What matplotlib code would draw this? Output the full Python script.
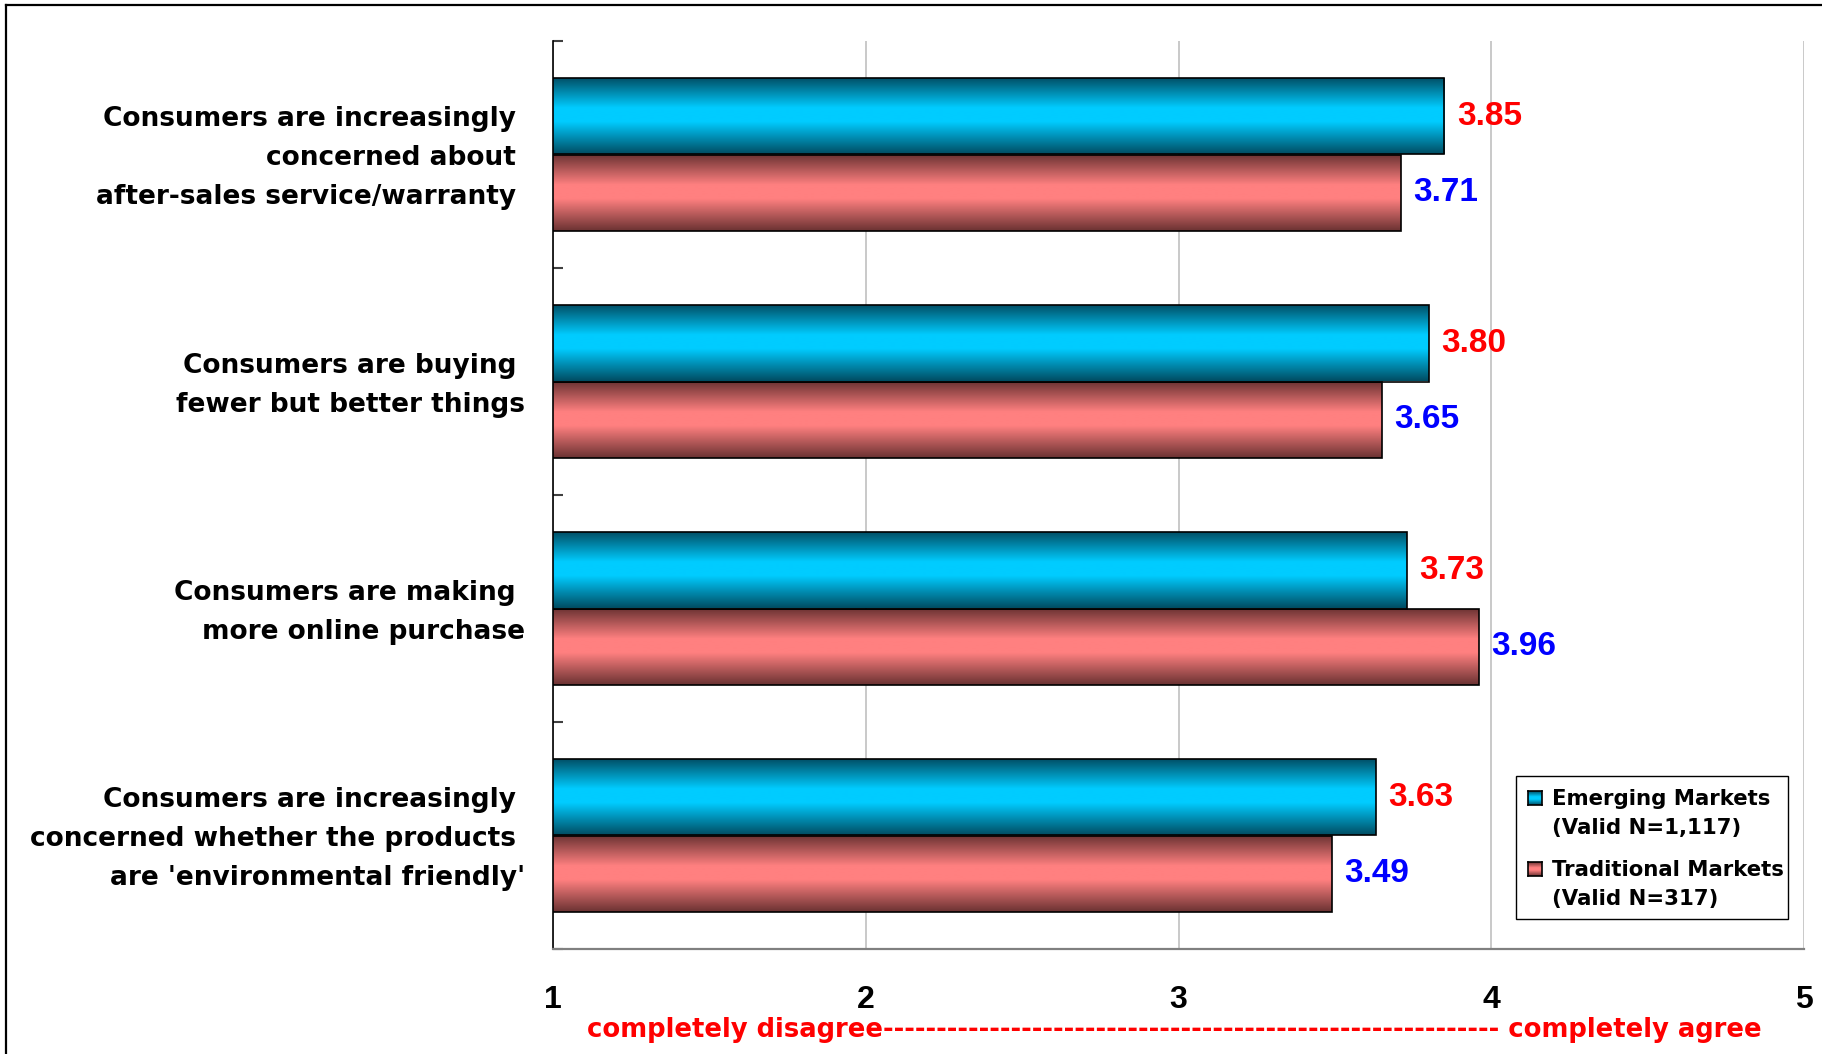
import numpy as np
import matplotlib
matplotlib.use("Agg")
from matplotlib import pyplot as plt
from matplotlib.colors import LinearSegmentedColormap
from matplotlib.lines import Line2D
from matplotlib.patches import Rectangle
from matplotlib.transforms import ScaledTranslation

# survey statements, top to bottom
categories = [
    "Consumers are increasingly \nconcerned about \nafter-sales service/warranty ",
    "Consumers are buying \nfewer but better things",
    "Consumers are making \nmore online purchase",
    "Consumers are increasingly \nconcerned whether the products \nare 'environmental friendly'",
]
emerging = [3.85, 3.80, 3.73, 3.63]
traditional = [3.71, 3.65, 3.96, 3.49]
legend_lines = [
    ["Emerging Markets", "(Valid N=1,117)"],
    ["Traditional Markets", "(Valid N=317)"],
]
xticks = [1, 2, 3, 4, 5]
scale_text = "completely disagree" + "-" * 58 + " completely agree"

W, H = 1822, 1054
fig = plt.figure(figsize=(W / 100, H / 100), dpi=100)
ax = fig.add_axes([553 / W, 1 - 949 / H, (1804 - 553) / W, (949 - 41) / H])


def shade(dark, bright):
    return LinearSegmentedColormap.from_list(
        "s", [(0, dark), (0.4, bright), (0.58, bright), (1, dark)])


blue_cm = shade("#004c62", "#00ccff")
red_cm = shade("#6a3232", "#ff8080")
grad = np.linspace(0, 1, 256).reshape(-1, 1)

xmin, xmax = xticks[0], xticks[-1]
h = 0.336
y = np.arange(len(categories))
b1 = ax.barh(y - h / 2, emerging, height=h, facecolor="none",
             edgecolor="black", linewidth=1.2, zorder=3)
b2 = ax.barh(y + h / 2, traditional, height=h, facecolor="none",
             edgecolor="black", linewidth=1.2, zorder=3)

# vertical gradient inside each bar, starting at the axis minimum
for bars, cm in [(b1, blue_cm), (b2, red_cm)]:
    for p in bars:
        y0 = p.get_y()
        im = ax.imshow(grad, cmap=cm, aspect="auto", zorder=2,
                       extent=[xmin, p.get_x() + p.get_width(),
                               y0 + p.get_height(), y0],
                       interpolation="bilinear")
        im.set_clip_path(p)

lab_font = dict(family="Liberation Sans", weight="bold", size=24)
ax.bar_label(b1, fmt="%.2f", padding=9, color="#ff0000", **lab_font)
ax.bar_label(b2, fmt="%.2f", padding=9, color="#0000ff", **lab_font)

ax.set_xlim(xmin, xmax)
ax.set_ylim(len(categories) - 0.5, -0.5)
ax.set_xticks(xticks)
ax.set_xticklabels([str(t) for t in xticks], family="Liberation Sans",
                   weight="bold", size=23)
ax.tick_params(axis="x", length=0, pad=26)
ax.xaxis.grid(True, color="#c0c0c0", linewidth=1.2)
ax.set_axisbelow(True)

ax.set_yticks(y)
ax.set_yticklabels(categories, family="DejaVu Sans", weight="bold", size=19,
                   linespacing=1.65)
ax.tick_params(axis="y", which="major", length=0, pad=20)
ax.set_yticks(np.arange(-0.5, len(categories)), minor=True)
ax.tick_params(axis="y", which="minor", direction="in", length=7,
               width=1.5, color="#404040")
lift = ScaledTranslation(0, 4.3 / 72, fig.dpi_scale_trans)
for t in ax.get_yticklabels():
    t.set_multialignment("right")
    t.set_transform(t.get_transform() + lift)

for s in ["top", "right"]:
    ax.spines[s].set_visible(False)
ax.spines["left"].set_color("black")
ax.spines["left"].set_linewidth(1.2)
ax.spines["bottom"].set_color("#808080")
ax.spines["bottom"].set_linewidth(1.6)

fig.text(1174 / W, 1 - 1037 / H, scale_text, color="#ff0000", ha="center",
         va="baseline", family="DejaVu Sans", weight="bold", size=18.6)

# legend box drawn by hand so the swatch sits on the first line
fig.add_artist(Rectangle((1516 / W, 1 - 919 / H), (1788 - 1516) / W,
                         (919 - 776) / H, transform=fig.transFigure,
                         facecolor="white", edgecolor="black", linewidth=1,
                         zorder=5))
for (l1, l2), cm, yc in zip(legend_lines, [blue_cm, red_cm], [798, 869]):
    sw = fig.add_axes([1528 / W, 1 - (yc + 7) / H, 14 / W, 14 / H], zorder=6)
    sw.imshow(grad, cmap=cm, aspect="auto", interpolation="bilinear")
    sw.set_xticks([])
    sw.set_yticks([])
    for s in sw.spines.values():
        s.set_linewidth(1.2)
    for txt, yy in [(l1, yc + 1), (l2, yc + 30)]:
        fig.text(1552 / W, 1 - yy / H, txt, ha="left", va="center",
                 family="DejaVu Sans", weight="bold", size=15.3, zorder=7)

# outer frame (top and left edges)
fig.add_artist(Line2D([6 / W, 1], [1 - 5 / H, 1 - 5 / H], color="black",
                      linewidth=1.6, transform=fig.transFigure))
fig.add_artist(Line2D([6 / W, 6 / W], [0, 1 - 5 / H], color="black",
                      linewidth=1.6, transform=fig.transFigure))

fig.savefig("out.png", dpi=100, facecolor="white")
